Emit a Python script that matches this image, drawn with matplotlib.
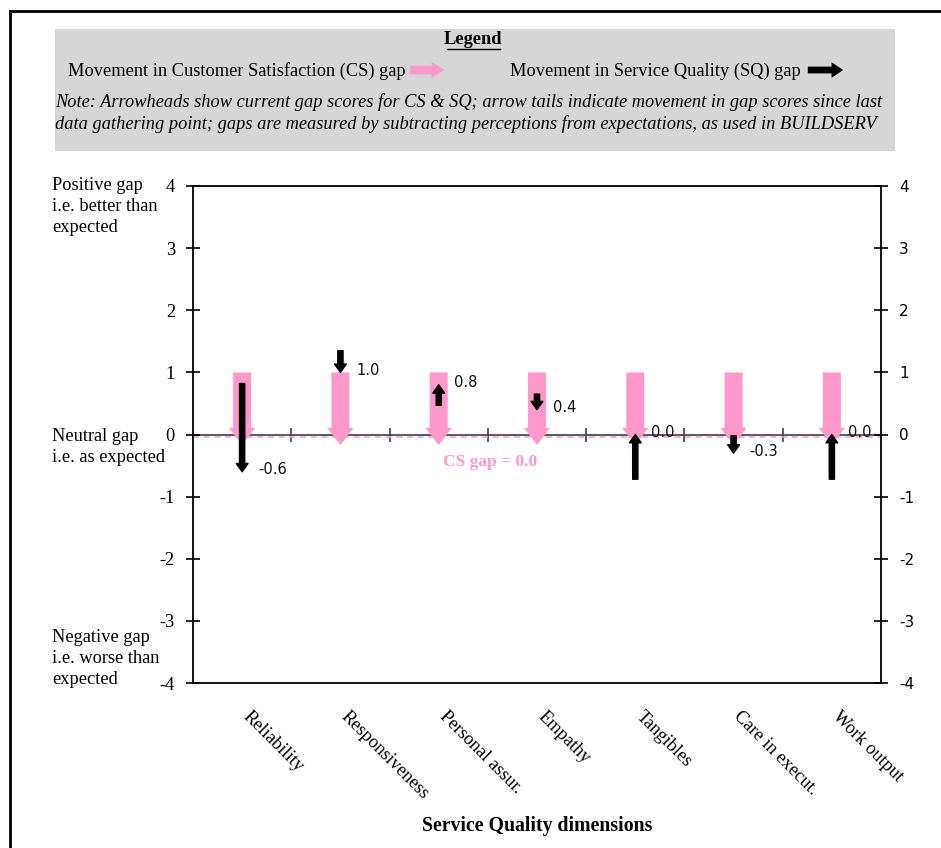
import matplotlib
matplotlib.use("Agg")
import matplotlib.pyplot as plt
from matplotlib.patches import FancyArrowPatch, Rectangle
from matplotlib.lines import Line2D
from matplotlib.transforms import ScaledTranslation

# data
dimensions = ["Reliability", "Responsiveness", "Personal assur.", "Empathy",
              "Tangibles", "Care in execut.", "Work output"]
cs_prev = [1.0, 1.0, 1.0, 1.0, 1.0, 1.0, 1.0]
cs_now = [0.0, 0.0, 0.0, 0.0, 0.0, 0.0, 0.0]
sq_prev = [0.82, 1.35, 0.47, 0.65, -0.72, -0.02, -0.72]
sq_now = [-0.6, 1.0, 0.8, 0.4, 0.0, -0.3, 0.0]
y_ticks = [4, 3, 2, 1, 0, -1, -2, -3, -4]

PINK = "#ff99cc"
SERIF = "Liberation Serif"
SANS = "DejaVu Sans"
FS = 13.2

fig = plt.figure(figsize=(9.41, 8.48), dpi=100)
ax = fig.add_axes([193 / 941, 1 - 683 / 848, 688 / 941, 497 / 848])

n = len(dimensions)
ax.set_xlim(-0.5, n - 0.5)
ax.set_ylim(-4, 4)

# zero line with cross ticks at category boundaries
ax.axhline(0, color="#404040", lw=1.2, zorder=1)
bounds = [i + 0.5 for i in range(n - 1)]
ax.plot(bounds, [0] * len(bounds), ls="none", marker="|", ms=10, mew=1.2,
        color="#404040", zorder=1)
ax.axhline(-0.04, color=PINK, lw=1.1, ls=(0, (4, 3)), zorder=1)

# CS gap arrows (pink)
for i in range(n):
    a = FancyArrowPatch((i, cs_prev[i]), (i, cs_now[i] - 0.17),
                        arrowstyle="simple,head_width=1.45,head_length=0.95,tail_width=1.0",
                        mutation_scale=13, color=PINK, lw=0, shrinkA=0, shrinkB=0, zorder=2)
    ax.add_patch(a)

# SQ gap arrows (black)
for i in range(n):
    a = FancyArrowPatch((i, sq_prev[i]), (i, sq_now[i]),
                        arrowstyle="simple,head_width=1.7,head_length=1.2,tail_width=0.75",
                        mutation_scale=5, facecolor="black", edgecolor="black", lw=1,
                        joinstyle="round", capstyle="round",
                        shrinkA=0, shrinkB=0, zorder=3)
    ax.add_patch(a)
    ax.text(i + 0.16, sq_now[i] + 0.03, f"{sq_now[i]:.1f}", fontsize=10.5,
            family=SANS, va="center", ha="left", color="#111111", zorder=4)

ax.text(2.52, -0.44, "CS gap = 0.0", color=PINK, fontsize=12.5, fontweight="bold",
        family=SERIF, ha="center", va="center")

# axes styling
for side in ["left", "right", "top", "bottom"]:
    ax.spines[side].set_linewidth(1.3)
ax.set_yticks(y_ticks)
ax.tick_params(axis="y", left=True, right=True, labelleft=True, labelright=True,
               direction="inout", length=10, width=1.2, pad=8)
for t in ax.yaxis.get_major_ticks():
    t.label1.set_fontfamily(SERIF)
    t.label1.set_fontsize(FS)
    t.label2.set_fontfamily(SANS)
    t.label2.set_fontsize(11)
ax.set_yticklabels([str(v) for v in y_ticks])

ax.set_xticks(range(n))
ax.set_xticklabels(dimensions, rotation=-45, ha="left", va="top",
                   rotation_mode="anchor", family=SERIF, fontsize=FS)
ax.tick_params(axis="x", length=0, pad=18)
shift = ScaledTranslation(9 / 100, 0, fig.dpi_scale_trans)
for lbl in ax.get_xticklabels():
    lbl.set_transform(lbl.get_transform() + shift)
ax.set_xlabel("Service Quality dimensions", family=SERIF, fontsize=14.2,
              fontweight="bold", labelpad=10)

# side notes
side_notes = [(1 - 177 / 848, "Positive gap\ni.e. better than\nexpected"),
              (1 - 428 / 848, "Neutral gap\ni.e. as expected"),
              (1 - 629 / 848, "Negative gap\ni.e. worse than\nexpected")]
for y, s in side_notes:
    fig.text(52 / 941, y, s, family=SERIF, fontsize=FS, va="top", ha="left",
             linespacing=1.32)

# legend box
fig.add_artist(Rectangle((55 / 941, 1 - 151 / 848), 840 / 941, 122 / 848,
                         transform=fig.transFigure, facecolor="#d6d6d6",
                         edgecolor="none", zorder=0))
fig.text(473 / 941, 1 - 40 / 848, "Legend", family=SERIF, fontsize=FS,
         fontweight="bold", ha="center", va="center")
fig.add_artist(Line2D([447 / 941, 500 / 941], [1 - 49 / 848, 1 - 49 / 848],
                      color="black", lw=1))
fig.text(68 / 941, 1 - 71 / 848, "Movement in Customer Satisfaction (CS) gap",
         family=SERIF, fontsize=FS, ha="left", va="center")
fig.add_artist(FancyArrowPatch((407 / 941, 1 - 70 / 848), (447 / 941, 1 - 70 / 848),
                               transform=fig.transFigure,
                               arrowstyle="simple,head_width=1.3,head_length=1.0,tail_width=0.7",
                               mutation_scale=9, color=PINK, lw=0))
fig.text(510 / 941, 1 - 71 / 848, "Movement in Service Quality (SQ) gap",
         family=SERIF, fontsize=FS, ha="left", va="center")
fig.add_artist(FancyArrowPatch((805 / 941, 1 - 70 / 848), (846 / 941, 1 - 70 / 848),
                               transform=fig.transFigure,
                               arrowstyle="simple,head_width=1.6,head_length=1.2,tail_width=0.7",
                               mutation_scale=7, color="black", lw=0))
fig.text(55 / 941, 1 - 113 / 848,
         "Note: Arrowheads show current gap scores for CS & SQ; arrow tails indicate movement in gap scores since last\n"
         "data gathering point; gaps are measured by subtracting perceptions from expectations, as used in BUILDSERV",
         family=SERIF, fontsize=FS, style="italic", ha="left", va="center",
         linespacing=1.25)

# page frame
fig.add_artist(Line2D([10 / 941, 1], [1 - 11 / 848, 1 - 11 / 848], color="black", lw=2))
fig.add_artist(Line2D([10 / 941, 10 / 941], [0, 1 - 11 / 848], color="black", lw=2))

fig.savefig("out.png", dpi=100)
